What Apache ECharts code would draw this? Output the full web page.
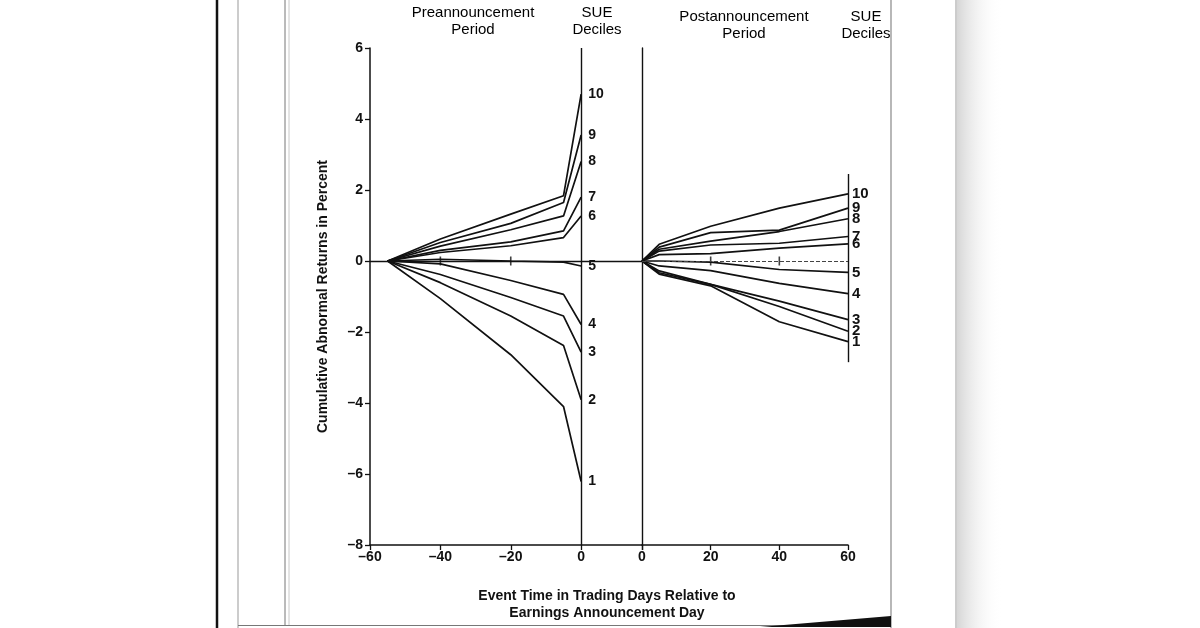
<!DOCTYPE html>
<html>
<head>
<meta charset="utf-8">
<script src="https://cdn.jsdelivr.net/npm/echarts@6/dist/echarts.min.js"></script>
<style>
html,body{margin:0;padding:0;background:#fff;}
#chart{width:1200px;height:628px;}
</style>
</head>
<body>
<div id="chart"></div>
<script>
// ---- DATA ----
const deciles = ['10','9','8','7','6','5','4','3','2','1'];
const preDays = [-55, -40, -20, -5, 0];
const pre10 = [0, 0.62, 1.32, 1.84, 4.70];
const pre9  = [0, 0.52, 1.06, 1.65, 3.55];
const pre8  = [0, 0.42, 0.88, 1.27, 2.80];
const pre7  = [0, 0.30, 0.54, 0.85, 1.80];
const pre6  = [0, 0.24, 0.43, 0.66, 1.27];
const pre5  = [0, 0.05, 0.00, -0.03, -0.14];
const pre4  = [0, -0.08, -0.55, -0.94, -1.79];
const pre3  = [0, -0.38, -1.03, -1.55, -2.57];
const pre2  = [0, -0.61, -1.55, -2.38, -3.91];
const pre1  = [0, -1.06, -2.64, -4.10, -6.21];

const postDays = [0, 5, 20, 40, 60];
const post10 = [0, 0.47, 0.98, 1.49, 1.89];
const post9  = [0, 0.39, 0.80, 0.87, 1.49];
const post8  = [0, 0.33, 0.56, 0.83, 1.19];
const post7  = [0, 0.28, 0.45, 0.50, 0.69];
const post6  = [0, 0.18, 0.21, 0.36, 0.48];
const post5  = [0, 0.00, -0.03, -0.24, -0.32];
const post4  = [0, -0.14, -0.27, -0.63, -0.92];
const post3  = [0, -0.28, -0.66, -1.13, -1.65];
const post2  = [0, -0.33, -0.66, -1.28, -1.98];
const post1  = [0, -0.37, -0.70, -1.71, -2.27];

const preSeries = [pre10, pre9, pre8, pre7, pre6, pre5, pre4, pre3, pre2, pre1];
const postSeries = [post10, post9, post8, post7, post6, post5, post4, post3, post2, post1];

const preZeroTicks = [-40, -20];
const postZeroTicks = [20, 40];
const postSueLine = [2.45, -2.85];   // extent of the right-hand SUE decile line
const yTicks = { min: -8, max: 6, interval: 2 };

// ---- CHART ----
const FONT = '"Liberation Sans", Arial, Helvetica, sans-serif';
const INK = '#111';
const dash = v => (v < 0 ? '\u2013' + Math.abs(v) : String(v));

const chart = echarts.init(document.getElementById('chart'), null, { renderer: 'canvas' });

const series = [];
preSeries.forEach((vals, i) => {
  series.push({
    name: deciles[i], type: 'line', xAxisIndex: 0, yAxisIndex: 0,
    data: preDays.map((d, k) => [d, vals[k]]),
    symbol: 'none', silent: true,
    lineStyle: { color: INK, width: 1.7 },
    endLabel: { show: true, formatter: '{a}', color: INK, fontFamily: FONT, fontWeight: 'bold', fontSize: 14, distance: 7 }
  });
});
postSeries.forEach((vals, i) => {
  series.push({
    name: deciles[i], type: 'line', xAxisIndex: 1, yAxisIndex: 1,
    data: postDays.map((d, k) => [d, vals[k]]),
    symbol: 'none', silent: true,
    lineStyle: { color: INK, width: 1.7 },
    endLabel: { show: true, formatter: '{a}', color: INK, fontFamily: FONT, fontWeight: 'bold', fontSize: 15, distance: 4 }
  });
});
series.push({
  type: 'scatter', xAxisIndex: 0, yAxisIndex: 0, silent: true,
  data: preZeroTicks.map(d => [d, 0]),
  symbol: 'rect', symbolSize: [1.6, 9], itemStyle: { color: INK },
  markLine: {
    silent: true, symbol: ['none', 'none'], label: { show: false },
    lineStyle: { color: INK, width: 1.4, type: 'solid' },
    data: [{ yAxis: 0 }, { xAxis: 0 }]
  }
});
series.push({
  type: 'scatter', xAxisIndex: 1, yAxisIndex: 1, silent: true,
  data: postZeroTicks.map(d => [d, 0]),
  symbol: 'rect', symbolSize: [1.6, 9], itemStyle: { color: INK },
  markLine: {
    silent: true, symbol: ['none', 'none'], label: { show: false },
    data: [
      { yAxis: 0, lineStyle: { color: '#444', width: 1.2, type: [4, 2] } },
      [{ coord: [60, postSueLine[0]], lineStyle: { color: INK, width: 1.4, type: 'solid' } }, { coord: [60, postSueLine[1]] }]
    ]
  }
});

const axisLine = { show: true, onZero: false, lineStyle: { color: INK, width: 1.5 } };
const tickLabel = { color: INK, fontFamily: FONT, fontWeight: 'bold', fontSize: 14 };

const option = {
  animation: false,
  backgroundColor: '#ffffff',
  grid: [
    { left: 370, top: 48, width: 272, height: 497 },
    { left: 642, top: 48, width: 206, height: 497 }
  ],
  xAxis: [
    { gridIndex: 0, type: 'value', min: -60, max: 17.3, interval: 20, position: 'bottom',
      axisLine, axisTick: { show: true, length: 5, lineStyle: { color: INK, width: 1.3 } },
      axisLabel: Object.assign({ margin: 5, formatter: v => (v > 0 ? '' : dash(v)) }, tickLabel),
      splitLine: { show: false } },
    { gridIndex: 1, type: 'value', min: 0, max: 60, interval: 20, position: 'bottom',
      axisLine, axisTick: { show: true, length: 5, lineStyle: { color: INK, width: 1.3 } },
      axisLabel: Object.assign({ margin: 5, showMinLabel: true, showMaxLabel: true, formatter: v => dash(v) }, tickLabel),
      splitLine: { show: false } }
  ],
  yAxis: [
    { gridIndex: 0, type: 'value', min: yTicks.min, max: yTicks.max, interval: yTicks.interval, position: 'left',
      axisLine, axisTick: { show: true, length: 5, lineStyle: { color: INK, width: 1.3 } },
      axisLabel: Object.assign({ margin: 7, formatter: v => dash(v) }, tickLabel),
      splitLine: { show: false },
      name: 'Cumulative Abnormal Returns in Percent', nameLocation: 'middle', nameGap: 40,
      nameTextStyle: { color: INK, fontFamily: FONT, fontWeight: 'bold', fontSize: 14 } },
    { gridIndex: 1, type: 'value', min: yTicks.min, max: yTicks.max, interval: yTicks.interval, position: 'left',
      axisLine: { show: true, onZero: false, lineStyle: { color: INK, width: 1.4 } },
      axisTick: { show: false }, axisLabel: { show: false }, splitLine: { show: false } }
  ],
  series,
  graphic: [
    // scanned page frame
    { type: 'line', shape: { x1: 217, y1: 0, x2: 217, y2: 628 }, style: { stroke: '#111', lineWidth: 2.5 }, silent: true },
    { type: 'line', shape: { x1: 238, y1: 0, x2: 238, y2: 628 }, style: { stroke: '#999', lineWidth: 1 }, silent: true },
    { type: 'line', shape: { x1: 285, y1: 0, x2: 285, y2: 626 }, style: { stroke: '#777', lineWidth: 1 }, silent: true },
    { type: 'line', shape: { x1: 289, y1: 0, x2: 289, y2: 626 }, style: { stroke: '#c8c8c8', lineWidth: 1 }, silent: true },
    { type: 'line', shape: { x1: 891, y1: 0, x2: 891, y2: 628 }, style: { stroke: '#888', lineWidth: 1.2 }, silent: true },
    { type: 'line', shape: { x1: 956, y1: 0, x2: 956, y2: 628 }, style: { stroke: '#999', lineWidth: 1 }, silent: true },
    { type: 'rect', shape: { x: 957, y: 0, width: 45, height: 628 }, silent: true,
      style: { fill: new echarts.graphic.LinearGradient(0, 0, 1, 0, [{ offset: 0, color: '#d6d6d6' }, { offset: 1, color: 'rgba(255,255,255,0)' }]) } },
    { type: 'line', shape: { x1: 238, y1: 625.5, x2: 891, y2: 625.5 }, style: { stroke: '#777', lineWidth: 1.2 }, silent: true },
    { type: 'polygon', shape: { points: [[760, 627], [891, 616], [891, 627]] }, style: { fill: '#111' }, silent: true },
    // headers
    { type: 'text', x: 473, y: 4, silent: true,
      style: { text: 'Preannouncement\nPeriod', align: 'center', font: '15px ' + FONT, fill: '#000', lineHeight: 17 } },
    { type: 'text', x: 597, y: 4, silent: true,
      style: { text: 'SUE\nDeciles', align: 'center', font: '15px ' + FONT, fill: '#000', lineHeight: 17 } },
    { type: 'text', x: 744, y: 8, silent: true,
      style: { text: 'Postannouncement\nPeriod', align: 'center', font: '15px ' + FONT, fill: '#000', lineHeight: 17 } },
    { type: 'text', x: 866, y: 8, silent: true,
      style: { text: 'SUE\nDeciles', align: 'center', font: '15px ' + FONT, fill: '#000', lineHeight: 17 } },
    // x-axis title
    { type: 'text', x: 607, y: 588, silent: true,
      style: { text: 'Event Time in Trading Days Relative to\nEarnings Announcement Day', align: 'center',
               font: 'bold 14px ' + FONT, fill: INK, lineHeight: 17 } }
  ]
};
chart.setOption(option);
</script>
</body>
</html>
